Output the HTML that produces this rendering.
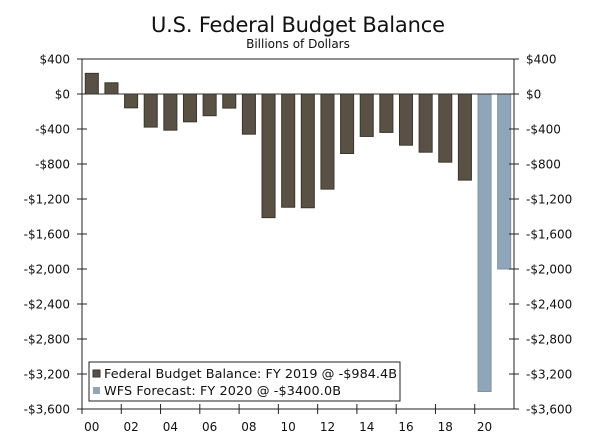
<!DOCTYPE html>
<html><head><meta charset="utf-8"><style>
body{margin:0;background:#fff;}
svg{display:block;font-family:"DejaVu Sans","Liberation Sans",sans-serif;}
</style></head><body>
<svg id="chart" width="600" height="436">
<text x="298" y="32" text-anchor="middle" font-size="21" textLength="294" fill="#111">U.S. Federal Budget Balance</text>
<text x="298" y="48" text-anchor="middle" font-size="12" fill="#111">Billions of Dollars</text>
<g id="plot"></g>
</svg>
<script>
const years=[2000,2001,2002,2003,2004,2005,2006,2007,2008,2009,2010,2011,2012,2013,2014,2015,2016,2017,2018,2019,2020,2021];
const balances=[236,128,-158,-378,-413,-318,-248,-161,-459,-1413,-1294,-1300,-1087,-680,-485,-439,-585,-665,-779,-984,-3400,-2000];
const isForecast=[false,false,false,false,false,false,false,false,false,false,false,false,false,false,false,false,false,false,false,false,true,true];
const yTicks=[400,0,-400,-800,-1200,-1600,-2000,-2400,-2800,-3200,-3600];
const yTickLabels=["$400","$0","-$400","-$800","-$1,200","-$1,600","-$2,000","-$2,400","-$2,800","-$3,200","-$3,600"];
const xTickLabels=["00","02","04","06","08","10","12","14","16","18","20"];

const NS="http://www.w3.org/2000/svg";
const g=document.getElementById('plot');
const L=82,R=514,T=59,B=409,yMax=400,yMin=-3600;
const band=(R-L)/years.length;
const y=v=>T+(yMax-v)/(yMax-yMin)*(B-T);
const xb=i=>L+i*band;
function mk(tag,a,parent){const e=document.createElementNS(NS,tag);for(const k in a)e.setAttribute(k,a[k]);(parent||g).appendChild(e);return e;}

balances.forEach((v,i)=>{
  const y0=y(0),y1=y(v);
  const r=mk('rect',{x:xb(i)+3.3,y:Math.min(y0,y1),width:band-6.6,height:Math.abs(y1-y0),
    fill:isForecast[i]?'#8fa5b8':'#5a5145',stroke:isForecast[i]?'#7f93a5':'#3a342c','stroke-width':1});
  
  
});
const zl=mk('line',{x1:L,x2:R,y1:y(0),y2:y(0),stroke:'#333','stroke-width':1});


[[L,T,L,B],[R,T,R,B],[L,B,R,B],[L,T,R,T]].forEach((c,k)=>{
  const a=mk('line',{x1:c[0],y1:c[1],x2:c[2],y2:c[3],stroke:'#222','stroke-width':1});
  
  
});
yTicks.forEach((v,i)=>{
  const yy=y(v);
  mk('line',{x1:L-5,x2:L+5,y1:yy,y2:yy,stroke:'#222'});
  mk('line',{x1:R-5,x2:R+5,y1:yy,y2:yy,stroke:'#222'});
  const t1=mk('text',{x:L-12,y:yy+4.5,'text-anchor':'end','font-size':12,fill:'#111'});
  t1.textContent=yTickLabels[i];
  
  
  const t2=mk('text',{x:R+12,y:yy+4.5,'text-anchor':'start','font-size':12,fill:'#111'});
  t2.textContent=yTickLabels[i];
  
  
});
xTickLabels.forEach((lab,k)=>{
  const i=k*2;
  mk('line',{x1:xb(i),x2:xb(i),y1:B-5,y2:B+5,stroke:'#222'});
  const t=mk('text',{x:xb(i)+band/2,y:431,'text-anchor':'middle','font-size':12,fill:'#111'});
  t.textContent=lab;
  
  
});
const lg=mk('g',{});


mk('rect',{x:89,y:362,width:311,height:39,fill:'#fff',stroke:'#222'},lg);
mk('rect',{x:93,y:370,width:7,height:7,fill:'#5a5145',stroke:'#3a342c'},lg);
mk('rect',{x:93,y:387,width:7,height:7,fill:'#8fa5b8'},lg);
const l1=mk('text',{x:104,y:378,'font-size':12.8,textLength:293,fill:'#111'},lg);
l1.textContent='Federal Budget Balance: FY 2019 @ -$984.4B';


const l2=mk('text',{x:104,y:395,'font-size':12.8,textLength:237,fill:'#111'},lg);
l2.textContent='WFS Forecast: FY 2020 @ -$3400.0B';


</script>
</body></html>
